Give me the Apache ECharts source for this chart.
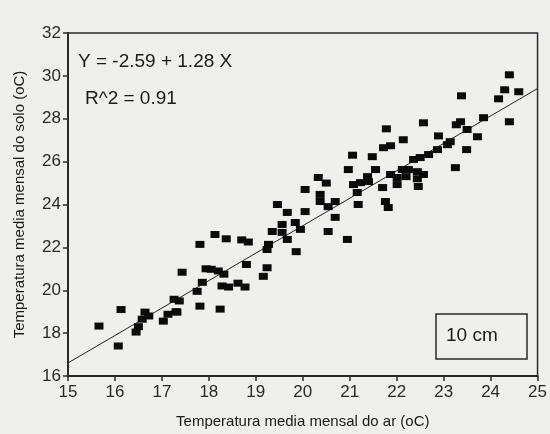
<!DOCTYPE html>
<html>
<head>
<meta charset="utf-8">
<script src="https://cdn.jsdelivr.net/npm/echarts@6/dist/echarts.min.js"></script>
<style>
  html, body { margin: 0; padding: 0; background: #efefec; }
  #chart { width: 550px; height: 434px; }
</style>
</head>
<body>
<div id="chart"></div>
<script>
// temperatura do ar (x) e do solo a 10 cm (y)
const airTemp = [
  15.66, 16.07, 16.13, 16.45, 16.5, 16.58, 16.64, 16.72, 17.03, 17.13,
  17.32, 17.26, 17.37, 17.43, 17.81, 17.75, 17.86, 17.81, 18.13, 18.37,
  17.94, 18.05, 18.2, 18.32, 18.28, 18.42, 18.24, 18.62, 18.77, 18.8,
  18.84, 19.16, 19.24, 19.24, 19.27, 19.35, 19.56, 19.46, 19.67, 19.56,
  19.67, 19.86, 19.84, 19.95, 20.05, 20.05, 20.33, 20.5, 20.37, 20.37,
  20.54, 20.69, 20.69, 20.54, 20.95, 20.97, 21.06, 21.08, 21.16, 21.23,
  21.4, 21.18, 21.38, 21.48, 21.55, 21.7, 21.76, 21.82, 21.87, 22.01,
  22.01, 22.12, 22.25, 22.44, 22.57, 22.2, 22.44, 22.46, 21.72, 21.87,
  21.78, 22.14, 22.36, 22.5, 22.68, 22.87, 22.57, 22.89, 23.08, 23.14,
  23.27, 23.36, 23.5, 23.72, 23.49, 23.25, 23.38, 23.85, 24.17, 24.3,
  24.4, 24.6, 24.4, 18.7, 17.3
]
const soilTemp = [
  18.33, 17.4, 19.1, 18.05, 18.3, 18.65, 18.98, 18.8, 18.56, 18.88,
  18.98, 19.58, 19.5, 20.84, 19.26, 19.95, 20.37, 22.14, 22.6, 22.4,
  21.0, 20.98, 20.9, 20.75, 20.2, 20.15, 19.12, 20.33, 20.15, 21.2,
  22.25, 20.65, 21.05, 21.9, 22.14, 22.74, 23.07, 24.0, 23.63, 22.7,
  22.37, 21.8, 23.16, 22.84, 24.7, 23.67, 25.26, 25.0, 24.47, 24.14,
  23.9, 24.14, 23.4, 22.74, 22.37, 25.63, 26.3, 24.93, 24.56, 25.02,
  25.07, 24.0, 25.3, 26.23, 25.63, 24.79, 24.14, 23.86, 25.4, 25.26,
  24.93, 25.63, 25.63, 25.53, 25.4, 25.3, 25.2, 24.84, 26.65, 26.74,
  27.53, 27.02, 26.1, 26.19, 26.33, 26.56, 27.81, 27.2, 26.79, 26.93,
  27.72, 27.86, 27.5, 27.16, 26.56, 25.72, 29.07, 28.05, 28.93, 29.35,
  30.05, 29.26, 27.86, 22.35, 19.0
]
// reta de regressao Y = -2.59 + 1.28 X
const intercept = -2.59
const slope = 1.28
const xRange = [15, 25]

let mychart = echarts.init(document.getElementById('chart'))
let points = airTemp.map((x, i) => [x, soilTemp[i]])
let fitLine = xRange.map(x => [x, intercept + slope * x])
let font = 'Liberation Sans, Arial, sans-serif'

let option = {
  backgroundColor: '#efefec',
  animation: false,
  grid: {
    left: 68, right: 12, top: 33, bottom: 57,
    show: true,
    borderColor: '#2a2a2a',
    borderWidth: 1.5,
    backgroundColor: 'transparent'
  },
  xAxis: {
    type: 'value',
    min: 15, max: 25, interval: 1,
    name: 'Temperatura media mensal do ar (oC)',
    nameLocation: 'middle',
    nameGap: 38,
    nameTextStyle: { fontFamily: font, fontSize: 15, color: '#1a1a1a' },
    axisLine: { lineStyle: { color: '#2a2a2a', width: 2 } },
    axisTick: { show: true, length: 5, lineStyle: { color: '#2a2a2a', width: 1.5 } },
    axisLabel: { fontFamily: font, fontSize: 17, color: '#2a2a2a', margin: 8 },
    splitLine: { show: false }
  },
  yAxis: {
    type: 'value',
    min: 16, max: 32, interval: 2,
    name: 'Temperatura media mensal do solo (oC)',
    nameLocation: 'middle',
    nameGap: 41,
    nameTextStyle: { fontFamily: font, fontSize: 15, color: '#1a1a1a' },
    axisLine: { lineStyle: { color: '#2a2a2a', width: 2 } },
    axisTick: { show: true, length: 5, lineStyle: { color: '#2a2a2a', width: 1.5 } },
    axisLabel: { fontFamily: font, fontSize: 17, color: '#2a2a2a', margin: 7 },
    splitLine: { show: false }
  },
  series: [
    {
      type: 'line',
      data: fitLine,
      symbol: 'none',
      lineStyle: { color: '#222', width: 1 },
      z: 1
    },
    {
      type: 'scatter',
      data: points,
      symbol: 'rect',
      symbolSize: [9, 7],
      itemStyle: { color: '#0a0a0a', opacity: 1 },
      z: 2
    }
  ],
  graphic: [
    {
      type: 'text', left: 78, top: 52,
      style: { text: 'Y = -2.59 + 1.28 X', font: '19px ' + font, fill: '#1a1a1a' }
    },
    {
      type: 'text', left: 85, top: 89,
      style: { text: 'R^2 = 0.91', font: '19px ' + font, fill: '#1a1a1a' }
    },
    {
      type: 'rect',
      shape: { x: 436, y: 314, width: 91, height: 45 },
      style: { fill: 'transparent', stroke: '#2a2a2a', lineWidth: 1.5 }
    },
    {
      type: 'text', left: 446, top: 326,
      style: { text: '10 cm', font: '19px ' + font, fill: '#1a1a1a' }
    }
  ]
}
mychart.setOption(option)
</script>
</body>
</html>
